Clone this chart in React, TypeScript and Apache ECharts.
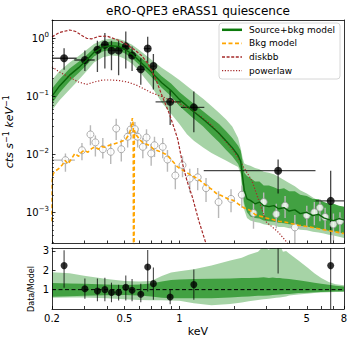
import React, { useEffect, useRef } from 'react';
import * as echarts from 'echarts';

const FONT = 'DejaVu Sans';

// ---------- Source spectrum (black points) ----------
const srcE = [0.233, 0.303, 0.355, 0.39, 0.424, 0.464, 0.508, 0.55, 0.614, 0.67, 0.72, 0.89, 1.2, 3.48, 6.76];
const srcELo = [0.2, 0.265, 0.343, 0.372, 0.407, 0.444, 0.486, 0.529, 0.58, 0.64, 0.695, 0.74, 1.02, 1.36, 5.58];
const srcEHi = [0.273, 0.343, 0.372, 0.407, 0.444, 0.486, 0.529, 0.58, 0.64, 0.695, 0.74, 1.02, 1.37, 5.58, 8.0];
const srcRate = [0.45, 0.42, 0.63, 0.77, 0.61, 0.61, 0.72, 0.5, 0.29, 0.66, 0.33, 0.08, 0.064, 0.0052, 0.00157];
const srcRateLo = [0.284, 0.27, 0.26, 0.3, 0.28, 0.23, 0.3, 0.27, 0.157, 0.37, 0.13, 0.032, 0.024, 0.0021, 0.000001];
const srcRateHi = [0.67, 0.61, 0.9, 1.22, 0.9, 0.9, 1.3, 0.72, 0.45, 1.05, 0.53, 0.127, 0.12, 0.0081, 0.0052];

// ---------- Background spectrum (open points) ----------
const bkgE = [0.237, 0.292, 0.325, 0.346, 0.38, 0.42, 0.45, 0.48, 0.52, 0.54, 0.57, 0.59, 0.63, 0.66, 0.7, 0.73, 0.81, 0.86, 0.95, 1.04, 1.14, 1.26, 1.4, 1.64, 1.92, 2.2, 2.55, 2.9, 3.4, 3.8, 4.3, 5.0, 5.5, 5.9, 6.3, 7.0, 7.6];
const bkgELo = [0.2, 0.292, 0.325, 0.346, 0.38, 0.42, 0.45, 0.48, 0.52, 0.54, 0.57, 0.59, 0.63, 0.66, 0.7, 0.73, 0.81, 0.86, 0.95, 1.04, 1.14, 1.26, 1.4, 1.64, 1.92, 2.2, 2.55, 2.9, 3.4, 3.8, 3.99, 5.0, 5.5, 5.9, 6.3, 7.0, 7.6];
const bkgEHi = [0.267, 0.292, 0.325, 0.346, 0.38, 0.42, 0.45, 0.48, 0.52, 0.54, 0.57, 0.59, 0.63, 0.66, 0.7, 0.73, 0.81, 0.86, 0.95, 1.04, 1.14, 1.26, 1.4, 1.64, 1.92, 2.2, 2.55, 2.9, 3.4, 3.8, 4.85, 5.0, 5.5, 5.9, 6.3, 7.0, 7.6];
const bkgRate = [0.0079, 0.0117, 0.0219, 0.016, 0.0122, 0.011, 0.0277, 0.0122, 0.02, 0.0267, 0.027, 0.02, 0.0134, 0.0194, 0.0103, 0.0143, 0.0134, 0.0081, 0.0043, 0.0065, 0.0038, 0.004, 0.0026, 0.0015, 0.0017, 0.002, 0.00097, 0.0015, 0.00093, 0.0013, 0.00055, 0.00089, 0.001, 0.0012, 0.00083, 0.00062, 0.0007];
const bkgRateHi = [0.0103, 0.0156, 0.0316, 0.021, 0.019, 0.0155, 0.041, 0.018, 0.028, 0.036, 0.036, 0.028, 0.019, 0.027, 0.015, 0.02, 0.019, 0.0118, 0.0066, 0.0092, 0.0056, 0.0058, 0.0039, 0.0023, 0.0025, 0.0029, 0.0015, 0.0022, 0.0014, 0.0019, 0.0009, 0.0013, 0.0015, 0.0017, 0.0012, 0.00095, 0.001];
const bkgRateLo = [0.005, 0.0079, 0.0143, 0.0091, 0.0084, 0.0068, 0.0175, 0.0075, 0.013, 0.018, 0.018, 0.013, 0.0085, 0.0125, 0.0063, 0.009, 0.0085, 0.005, 0.0025, 0.004, 0.0022, 0.0024, 0.0015, 0.0008, 0.001, 0.0012, 0.00052, 0.0009, 0.00053, 0.0008, 0.00027, 0.0005, 0.0006, 0.0007, 0.00046, 0.00032, 0.0004];

// ---------- Source+bkg model and its bands ----------
const bandE = [0.2, 0.22, 0.25, 0.28, 0.31, 0.34, 0.38, 0.42, 0.46, 0.5, 0.55, 0.6, 0.7, 0.8, 0.9, 1.0, 1.1, 1.2, 1.35, 1.5, 1.65, 1.8, 1.95, 2.1, 2.17, 2.22, 2.27, 2.35, 2.45, 2.6, 2.75, 2.9, 3.1, 3.3, 3.5, 3.75, 4.0, 4.3, 4.6, 5.0, 5.4, 5.8, 6.2, 6.6, 7.0, 7.5, 8.0];
const modelV = [0.1, 0.15, 0.23, 0.31, 0.42, 0.57, 0.7, 0.74, 0.72, 0.65, 0.53, 0.41, 0.26, 0.17, 0.125, 0.088, 0.068, 0.054, 0.04, 0.03, 0.023, 0.017, 0.013, 0.0095, 0.0075, 0.0042, 0.0024, 0.0017, 0.0016, 0.0014, 0.0015, 0.0013, 0.00125, 0.0013, 0.00115, 0.0012, 0.00105, 0.0011, 0.00095, 0.001, 0.00088, 0.00092, 0.0008, 0.00075, 0.00072, 0.00078, 0.00074];
const darkLo = [0.075, 0.115, 0.18, 0.25, 0.345, 0.48, 0.59, 0.63, 0.61, 0.55, 0.45, 0.35, 0.215, 0.14, 0.1, 0.068, 0.052, 0.041, 0.03, 0.0215, 0.016, 0.012, 0.0092, 0.0068, 0.0052, 0.0026, 0.0014, 0.001, 0.00085, 0.0008, 0.00078, 0.00072, 0.0007, 0.00069, 0.00066, 0.00065, 0.00062, 0.00061, 0.00058, 0.00057, 0.00054, 0.00053, 0.0005, 0.00048, 0.00047, 0.00045, 0.00043];
const darkHi = [0.135, 0.195, 0.3, 0.39, 0.51, 0.67, 0.82, 0.87, 0.85, 0.77, 0.63, 0.49, 0.33, 0.22, 0.165, 0.118, 0.092, 0.074, 0.055, 0.042, 0.033, 0.025, 0.019, 0.014, 0.0115, 0.0075, 0.0048, 0.0042, 0.0039, 0.0034, 0.0034, 0.0029, 0.0029, 0.0027, 0.0025, 0.0026, 0.0023, 0.0023, 0.002, 0.0019, 0.0017, 0.0017, 0.0015, 0.0014, 0.0014, 0.0013, 0.00125];
const lightLo = [0.057, 0.085, 0.13, 0.19, 0.27, 0.38, 0.47, 0.5, 0.49, 0.44, 0.36, 0.27, 0.15, 0.078, 0.05, 0.033, 0.022, 0.017, 0.013, 0.0105, 0.009, 0.0078, 0.0068, 0.006, 0.0045, 0.0018, 0.0011, 0.0008, 0.00072, 0.00068, 0.00066, 0.00062, 0.0006, 0.0006, 0.00056, 0.00056, 0.00053, 0.00053, 0.0005, 0.00049, 0.00046, 0.00045, 0.00043, 0.00041, 0.0004, 0.00038, 0.00036];
const lightHi = [0.19, 0.27, 0.38, 0.49, 0.63, 0.79, 0.93, 0.98, 0.97, 0.9, 0.77, 0.63, 0.43, 0.31, 0.24, 0.19, 0.15, 0.12, 0.09, 0.068, 0.052, 0.04, 0.03, 0.019, 0.0125, 0.0088, 0.0069, 0.0066, 0.0063, 0.0058, 0.0055, 0.005, 0.0048, 0.0045, 0.0041, 0.0036, 0.0032, 0.0028, 0.0024, 0.0021, 0.0018, 0.0016, 0.0015, 0.0014, 0.0014, 0.0013, 0.00125];

// ---------- Background model ----------
const bkgMdlE = [0.2, 0.2005, 0.203, 0.21, 0.22, 0.228, 0.236, 0.245, 0.255, 0.267, 0.28, 0.29, 0.3, 0.315, 0.33, 0.343, 0.36, 0.375, 0.39, 0.41, 0.43, 0.45, 0.47, 0.49, 0.51, 0.53, 0.545, 0.552, 0.558, 0.562, 0.566, 0.575, 0.59, 0.61, 0.63, 0.66, 0.69, 0.72, 0.76, 0.8, 0.84, 0.88, 0.92, 0.97, 1.02, 1.08, 1.15, 1.22, 1.3, 1.4, 1.5, 1.6, 1.72, 1.85, 1.98, 2.1, 2.25, 2.42, 2.6, 2.8, 3.0, 3.25, 3.5, 3.8, 4.1, 4.5, 5.0, 5.5, 6.0, 6.6, 7.2, 8.0];
const bkgMdlV = [0.0007, 0.0035, 0.0046, 0.0052, 0.0058, 0.0066, 0.0078, 0.0068, 0.0082, 0.0103, 0.0092, 0.0108, 0.0117, 0.0108, 0.0125, 0.0134, 0.0122, 0.0135, 0.0132, 0.0142, 0.0148, 0.0155, 0.0162, 0.017, 0.0185, 0.022, 0.03, 0.042, 0.032, 0.000001, 0.026, 0.022, 0.02, 0.0175, 0.0158, 0.0148, 0.014, 0.0122, 0.0115, 0.0108, 0.01, 0.0088, 0.0075, 0.0062, 0.0055, 0.005, 0.0044, 0.004, 0.0035, 0.0029, 0.0025, 0.0021, 0.0019, 0.0017, 0.0016, 0.0014, 0.0012, 0.0011, 0.00092, 0.00085, 0.0008, 0.00075, 0.0007, 0.00068, 0.00064, 0.0006, 0.00057, 0.00054, 0.00051, 0.00048, 0.00046, 0.00043];

// ---------- diskbb and powerlaw components ----------
const dbbE = [0.2, 0.22, 0.25, 0.27, 0.29, 0.31, 0.33, 0.36, 0.4, 0.43, 0.47, 0.52, 0.57, 0.62, 0.67, 0.74, 0.81, 0.88, 0.94, 0.98, 1.04, 1.1, 1.18, 1.28, 1.42];
const dbbV = [1.05, 1.25, 1.38, 1.3, 1.12, 0.99, 0.97, 1.07, 1.08, 1.0, 0.9, 0.76, 0.62, 0.5, 0.37, 0.2, 0.095, 0.05, 0.027, 0.018, 0.0069, 0.0035, 0.0018, 0.0007, 0.00025];
const plE = [0.2, 0.22, 0.25, 0.28, 0.31, 0.34, 0.38, 0.42, 0.47, 0.52, 0.58, 0.62, 0.7, 0.81, 0.9, 1.0, 1.2, 1.5, 2.0, 2.5, 3.0, 3.5, 3.9, 4.3];
const plV = [0.32, 0.26, 0.21, 0.175, 0.16, 0.175, 0.19, 0.19, 0.185, 0.175, 0.155, 0.14, 0.115, 0.097, 0.085, 0.075, 0.055, 0.032, 0.011, 0.0035, 0.00068, 0.00045, 0.0003, 0.0002];

// ---------- Ratio panel ----------
const ratio = [2.24, 1.05, 0.93, 1.0, 0.85, 0.85, 1.12, 0.97, 0.76, 2.17, 1.31, 0.62, 1.26, 4.2, 2.24];
const ratioLo = [1.1, 0.53, 0.4, 0.4, 0.35, 0.44, 0.44, 0.4, 0.35, 0.9, 0.48, 0.24, 0.48, 1.83, -1];
const ratioHi = [3.04, 1.57, 1.57, 1.62, 1.36, 1.25, 1.73, 1.55, 1.3, 3.05, 2.14, 1.0, 2.04, 6.5, 5];
const rbE = [0.2, 0.25, 0.3, 0.4, 0.5, 0.6, 0.7, 0.8, 0.9, 1.0, 1.2, 1.5, 1.9, 2.2, 2.4, 2.7, 2.9, 3.1, 3.25, 3.4, 3.55, 3.7, 3.85, 4.0, 4.5, 5.0, 5.5, 6.0, 6.6, 7.2, 8.0];
const rLightHi = [1.9, 1.85, 1.72, 1.55, 1.45, 1.42, 1.45, 1.7, 1.88, 1.95, 2.05, 2.25, 2.5, 2.65, 2.8, 2.95, 3.25, 3.05, 3.4, 3.1, 3.35, 2.95, 3.0, 2.86, 2.5, 2.17, 1.85, 1.6, 1.4, 1.28, 1.22];
const rLightLo = [0.58, 0.6, 0.6, 0.56, 0.5, 0.47, 0.45, 0.45, 0.44, 0.42, 0.3, 0.2, 0.26, 0.33, 0.4, 0.47, 0.5, 0.53, 0.56, 0.58, 0.6, 0.62, 0.65, 0.7, 0.75, 0.79, 0.82, 0.85, 0.87, 0.88, 0.89];
const rDarkHi = [1.34, 1.32, 1.3, 1.26, 1.24, 1.26, 1.32, 1.42, 1.5, 1.52, 1.55, 1.56, 1.58, 1.6, 1.6, 1.62, 1.64, 1.6, 1.63, 1.6, 1.6, 1.57, 1.56, 1.55, 1.48, 1.42, 1.36, 1.3, 1.25, 1.2, 1.16];
const rDarkLo = [0.63, 0.66, 0.68, 0.71, 0.72, 0.7, 0.64, 0.58, 0.56, 0.55, 0.55, 0.56, 0.6, 0.63, 0.65, 0.68, 0.69, 0.7, 0.72, 0.74, 0.75, 0.76, 0.77, 0.78, 0.82, 0.84, 0.86, 0.88, 0.89, 0.9, 0.91];
const unityLine = [1, 1];
const unityE = [0.2, 8];

// ---------- Ticks ----------
const xTickVals = [0.2, 0.3, 0.4, 0.5, 0.6, 0.7, 0.8, 0.9, 1, 2, 3, 4, 5, 6, 7, 8];
const xLabelVals = [0.2, 0.5, 1, 5, 8];
const yMajorVals = [0.001, 0.01, 0.1, 1];
const yMinorVals = [0.0003, 0.0004, 0.0005, 0.0006, 0.0007, 0.0008, 0.0009, 0.002, 0.003, 0.004, 0.005, 0.006, 0.007, 0.008, 0.009, 0.02, 0.03, 0.04, 0.05, 0.06, 0.07, 0.08, 0.09, 0.2, 0.3, 0.4, 0.5, 0.6, 0.7, 0.8, 0.9, 2];
const ratioTickVals = [1, 2, 3];

// ---------- Legend ----------
const legendNames = ['Source+bkg model', 'Bkg model', 'diskbb', 'powerlaw'];

const RED = '#a52a2a';
const ORANGE = '#ffa500';
const MODEL_GREEN = '#0a640a';
const LIGHT = 'rgba(0,128,0,0.35)';
const DARK = 'rgba(0,128,0,0.6)';

const legendStyles = [
  { stroke: '#0c7a0c', lineWidth: 2.5, lineDash: null as any },
  { stroke: ORANGE, lineWidth: 1.6, lineDash: [4, 2.5] },
  { stroke: RED, lineWidth: 1.4, lineDash: [3, 1.6] },
  { stroke: RED, lineWidth: 1.3, lineDash: [1.2, 1.6] },
];

const pairs = (xs: number[], ys: number[]) => xs.map((x, i) => [x, ys[i]]);

function band(xs: number[], lo: number[], hi: number[], fill: string, xi: number, yi: number) {
  return {
    type: 'custom', xAxisIndex: xi, yAxisIndex: yi, clip: true, silent: true,
    data: [[xs[0], lo[0]]],
    renderItem: (_p: any, api: any) => {
      const pts: number[][] = [];
      for (let i = 0; i < xs.length; i++) pts.push(api.coord([xs[i], hi[i]]));
      for (let i = xs.length - 1; i >= 0; i--) pts.push(api.coord([xs[i], lo[i]]));
      return { type: 'polygon', shape: { points: pts }, style: { fill, stroke: 'none' } };
    },
  };
}

function errBars(E: number[], ELo: number[], EHi: number[], V: number[], VLo: number[], VHi: number[], color: string, lw: number, xi: number, yi: number) {
  return {
    type: 'custom', xAxisIndex: xi, yAxisIndex: yi, clip: true, silent: true,
    data: E.map((e, i) => [e, V[i], ELo[i], EHi[i], VLo[i], VHi[i]]),
    renderItem: (_p: any, api: any) => {
      const x = api.value(0), y = api.value(1);
      const c = api.coord([x, y]);
      const a = api.coord([api.value(2), y]);
      const b = api.coord([api.value(3), y]);
      const lo = api.coord([x, api.value(4)]);
      const hi = api.coord([x, api.value(5)]);
      return {
        type: 'group',
        children: [
          { type: 'line', shape: { x1: a[0], y1: c[1], x2: b[0], y2: c[1] }, style: { stroke: color, lineWidth: lw } },
          { type: 'line', shape: { x1: c[0], y1: lo[1], x2: c[0], y2: hi[1] }, style: { stroke: color, lineWidth: lw } },
        ],
      };
    },
  };
}

const axLine = { show: true, onZero: false, lineStyle: { color: '#000', width: 0.8 } };
const noLabel = { show: false };
const noSplit = { show: false };
const logX = { type: 'log', logBase: 10, min: 0.2, max: 8 };
const logY = { type: 'log', logBase: 10, min: 0.00029, max: 2.05 };
const ratioY = { type: 'value', min: 0, max: 3.15 };

function supLabel(v: number) {
  const e = Math.round(Math.log10(v));
  return '{b|10}{s|' + (e < 0 ? '\u2212' + -e : String(e)) + '}';
}

function legendGraphic() {
  const x0 = 219, y0 = 23, w = 121, h = 56;
  const rowY = [29.8, 43.4, 57.0, 70.6];
  const children: any[] = [
    { type: 'rect', shape: { x: x0, y: y0, width: w, height: h, r: 3 }, style: { fill: 'rgba(255,255,255,0.85)', stroke: '#cccccc', lineWidth: 0.8 } },
  ];
  legendNames.forEach((name, i) => {
    const s = legendStyles[i];
    children.push({ type: 'line', shape: { x1: x0 + 3, y1: rowY[i], x2: x0 + 23, y2: rowY[i] }, style: { stroke: s.stroke, lineWidth: s.lineWidth, lineDash: s.lineDash || undefined } });
    children.push({ type: 'text', x: x0 + 30, y: rowY[i], style: { text: name, fill: '#000', font: '9px "DejaVu Sans"', align: 'left', verticalAlign: 'middle', textAlign: 'left', textVerticalAlign: 'middle' } });
  });
  return { type: 'group', z: 100, children };
}

export default function App() {
  const ref = useRef<HTMLDivElement>(null);
  useEffect(() => {
    document.body.style.margin = '0';
    const chart = echarts.init(ref.current!, null, { renderer: 'svg' });
    const option: any = {
      animation: false,
      backgroundColor: '#fff',
      textStyle: { fontFamily: FONT },
      graphic: [
        {
          type: 'text', x: 198, y: 11, z: 100,
          style: { text: 'eRO-QPE3 eRASS1 quiescence', fill: '#000', font: '12px "DejaVu Sans"', align: 'center', verticalAlign: 'middle', textAlign: 'center', textVerticalAlign: 'middle' },
        },
        {
          type: 'text', x: 31, y: 289, rotation: Math.PI / 2, z: 100,
          style: { text: 'Data/Model', fill: '#000', font: '8px "DejaVu Sans"', align: 'center', verticalAlign: 'middle', textAlign: 'center', textVerticalAlign: 'middle' },
        },
        legendGraphic(),
      ],
      grid: [
        { left: 52, top: 20, width: 292, height: 223.5, show: false, outerBoundsMode: 'none' },
        { left: 52, top: 248, width: 292, height: 61, show: false, outerBoundsMode: 'none' },
      ],
      xAxis: [
        { ...logX, gridIndex: 0, position: 'bottom', z: 10, axisLine: axLine, axisTick: { show: true, inside: true, length: 3, customValues: xTickVals, lineStyle: { color: '#000', width: 0.8 } }, axisLabel: noLabel, splitLine: noSplit },
        { ...logX, gridIndex: 0, position: 'top', z: 10, axisLine: axLine, axisTick: { show: false }, axisLabel: noLabel, splitLine: noSplit },
        {
          ...logX, gridIndex: 1, position: 'bottom', z: 10, axisLine: axLine,
          axisTick: { show: true, inside: true, length: 3, customValues: xTickVals, lineStyle: { color: '#000', width: 0.8 } },
          axisLabel: { show: true, customValues: xLabelVals, formatter: (v: number) => String(+v.toPrecision(3)), fontSize: 10, fontFamily: FONT, color: '#000', margin: 4 },
          splitLine: noSplit,
          name: 'keV', nameLocation: 'middle', nameGap: 17, nameTextStyle: { fontSize: 11, fontFamily: FONT, color: '#000' },
        },
        { ...logX, gridIndex: 1, position: 'top', z: 10, axisLine: axLine, axisTick: { show: false }, axisLabel: noLabel, splitLine: noSplit },
      ],
      yAxis: [
        {
          ...logY, gridIndex: 0, position: 'left', z: 10, axisLine: axLine,
          axisTick: { show: true, inside: true, length: 3.5, customValues: yMajorVals, lineStyle: { color: '#000', width: 0.8 } },
          axisLabel: {
            show: true, customValues: yMajorVals, formatter: supLabel, margin: 3,
            rich: {
              b: { fontSize: 10, fontFamily: FONT, color: '#000', lineHeight: 14 },
              s: { fontSize: 7, fontFamily: FONT, color: '#000', lineHeight: 8, verticalAlign: 'top' },
            },
          },
          splitLine: noSplit,
          name: '{i|cts s}{s|\u22121}{i| keV}{s|\u22121}', nameLocation: 'middle', nameGap: 33, nameRotate: 90,
          nameTextStyle: {
            rich: {
              i: { fontSize: 11, fontFamily: FONT, fontStyle: 'italic', color: '#000', lineHeight: 15 },
              s: { fontSize: 8, fontFamily: FONT, color: '#000', lineHeight: 9, verticalAlign: 'top' },
            },
          },
        },
        { ...logY, gridIndex: 0, position: 'left', z: 10, axisLine: { show: false }, axisTick: { show: true, inside: true, length: 2, customValues: yMinorVals, lineStyle: { color: '#000', width: 0.6 } }, axisLabel: noLabel, splitLine: noSplit },
        { ...logY, gridIndex: 0, position: 'right', z: 10, axisLine: axLine, axisTick: { show: false }, axisLabel: noLabel, splitLine: noSplit },
        {
          ...ratioY, gridIndex: 1, position: 'left', z: 10, axisLine: axLine,
          axisTick: { show: true, inside: true, length: 3.5, customValues: ratioTickVals, lineStyle: { color: '#000', width: 0.8 } },
          axisLabel: { show: true, customValues: ratioTickVals, fontSize: 10, fontFamily: FONT, color: '#000', margin: 3 },
          splitLine: noSplit,
        },
        { ...ratioY, gridIndex: 1, position: 'right', z: 10, axisLine: axLine, axisTick: { show: false }, axisLabel: noLabel, splitLine: noSplit },
      ],
      series: [
        { type: 'line', name: 'powerlaw', xAxisIndex: 0, yAxisIndex: 0, data: pairs(plE, plV), symbol: 'none', silent: true, color: RED, lineStyle: { color: RED, width: 1.2, type: [1.2, 1.8] } },
        { type: 'line', name: 'Bkg model', xAxisIndex: 0, yAxisIndex: 0, data: pairs(bkgMdlE, bkgMdlV), symbol: 'none', silent: true, color: ORANGE, lineStyle: { color: ORANGE, width: 1.6, type: [4, 2.5] } },
        band(bandE, lightLo, lightHi, LIGHT, 0, 0),
        band(bandE, darkLo, darkHi, DARK, 0, 0),
        { type: 'line', name: 'Source+bkg model', xAxisIndex: 0, yAxisIndex: 0, data: pairs(bandE, modelV), symbol: 'none', silent: true, color: MODEL_GREEN, lineStyle: { color: MODEL_GREEN, width: 1.4 } },
        { type: 'line', name: 'diskbb', xAxisIndex: 0, yAxisIndex: 0, data: pairs(dbbE, dbbV), symbol: 'none', silent: true, color: RED, lineStyle: { color: RED, width: 1.2, type: [3, 1.6] } },
        errBars(bkgE, bkgELo, bkgEHi, bkgRate, bkgRateLo, bkgRateHi, '#b8b8b8', 1.4, 0, 0),
        { type: 'scatter', name: 'bkg data', xAxisIndex: 0, yAxisIndex: 0, data: pairs(bkgE, bkgRate), symbol: 'circle', symbolSize: 7, silent: true, itemStyle: { color: '#ffffff', borderColor: '#9a9a9a', borderWidth: 1 } },
        errBars(srcE, srcELo, srcEHi, srcRate, srcRateLo, srcRateHi, 'rgba(0,0,0,0.72)', 1.3, 0, 0),
        { type: 'scatter', name: 'src data', xAxisIndex: 0, yAxisIndex: 0, data: pairs(srcE, srcRate), symbol: 'circle', symbolSize: 8, silent: true, itemStyle: { color: '#000' } },
        band(rbE, rLightLo, rLightHi, LIGHT, 2, 3),
        band(rbE, rDarkLo, rDarkHi, DARK, 2, 3),
        { type: 'line', name: 'unity', xAxisIndex: 2, yAxisIndex: 3, data: pairs(unityE, unityLine), symbol: 'none', silent: true, color: '#000', lineStyle: { color: '#000', width: 1, type: [4, 2.5] } },
        errBars(srcE, srcE, srcE, ratio, ratioLo, ratioHi, 'rgba(0,0,0,0.72)', 1.1, 2, 3),
        { type: 'scatter', name: 'ratio', xAxisIndex: 2, yAxisIndex: 3, data: pairs(srcE, ratio), symbol: 'circle', symbolSize: 7, silent: true, itemStyle: { color: '#000' } },
      ],
    };
    chart.setOption(option);
    return () => chart.dispose();
  }, []);
  return <div ref={ref} style={{ width: 353, height: 344 }} />;
}
